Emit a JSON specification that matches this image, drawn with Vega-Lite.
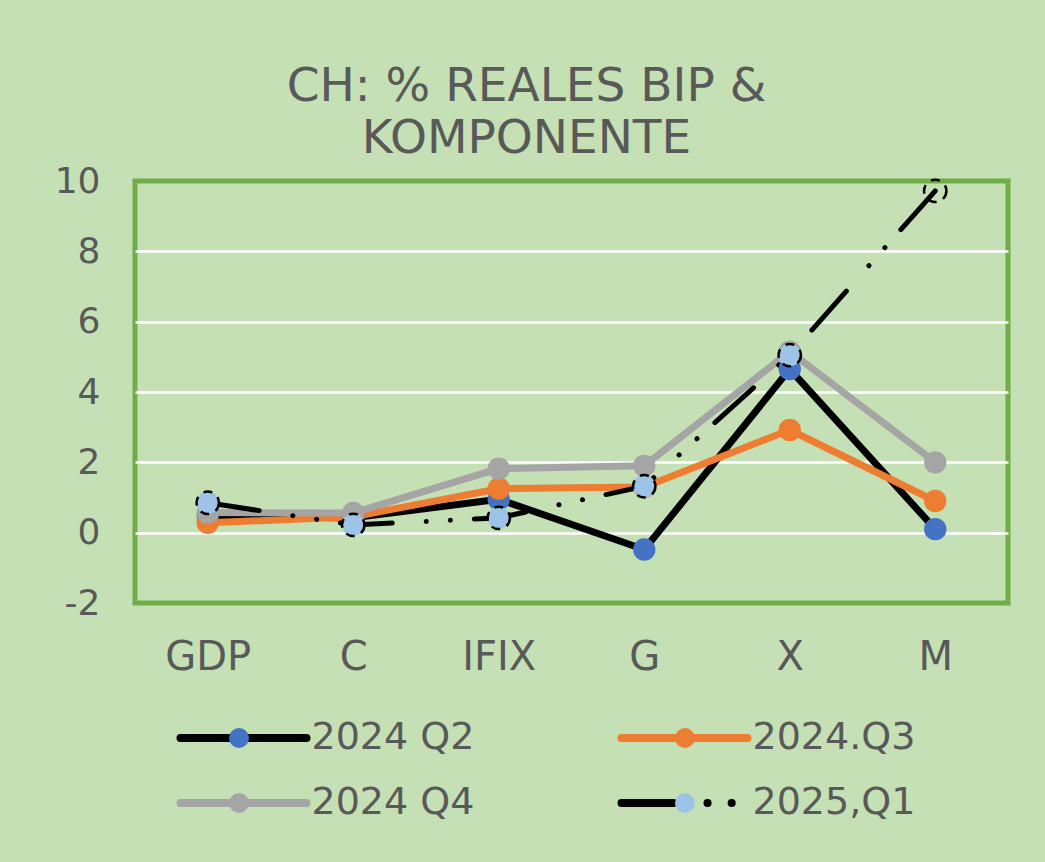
{
  "$schema": "https://vega.github.io/schema/vega-lite/v6.json",
  "width": 873,
  "height": 422,
  "autosize": "none",
  "padding": {"left": 135, "top": 181, "right": 37, "bottom": 259},
  "background": "#C5E0B4",
  "config": {
    "font": "DejaVu Sans",
    "view": {"stroke": "#70AD47", "strokeWidth": 5, "fill": "#C5E0B4"}
  },
  "title": {
    "text": ["CH: % REALES BIP &", "KOMPONENTE"],
    "fontSize": 47,
    "fontWeight": "normal",
    "color": "#595959",
    "font": "DejaVu Sans",
    "anchor": "middle",
    "dx": -45,
    "offset": 0,
    "lineHeight": 52
  },
  "data": {
    "values": [
      {"cat": "GDP", "series": "2024 Q2", "key": "a", "value": 0.48},
      {"cat": "C", "series": "2024 Q2", "key": "a", "value": 0.42},
      {"cat": "IFIX", "series": "2024 Q2", "key": "a", "value": 0.95},
      {"cat": "G", "series": "2024 Q2", "key": "a", "value": -0.48},
      {"cat": "X", "series": "2024 Q2", "key": "a", "value": 4.65},
      {"cat": "M", "series": "2024 Q2", "key": "a", "value": 0.1},
      {"cat": "GDP", "series": "2024.Q3", "key": "b", "value": 0.28},
      {"cat": "C", "series": "2024.Q3", "key": "b", "value": 0.45},
      {"cat": "IFIX", "series": "2024.Q3", "key": "b", "value": 1.25},
      {"cat": "G", "series": "2024.Q3", "key": "b", "value": 1.3},
      {"cat": "X", "series": "2024.Q3", "key": "b", "value": 2.92},
      {"cat": "M", "series": "2024.Q3", "key": "b", "value": 0.9},
      {"cat": "GDP", "series": "2024 Q4", "key": "c", "value": 0.57},
      {"cat": "C", "series": "2024 Q4", "key": "c", "value": 0.56},
      {"cat": "IFIX", "series": "2024 Q4", "key": "c", "value": 1.82},
      {"cat": "G", "series": "2024 Q4", "key": "c", "value": 1.9},
      {"cat": "X", "series": "2024 Q4", "key": "c", "value": 5.15},
      {"cat": "M", "series": "2024 Q4", "key": "c", "value": 2.0},
      {"cat": "GDP", "series": "2025,Q1", "key": "d", "value": 0.85},
      {"cat": "C", "series": "2025,Q1", "key": "d", "value": 0.22},
      {"cat": "IFIX", "series": "2025,Q1", "key": "d", "value": 0.42},
      {"cat": "G", "series": "2025,Q1", "key": "d", "value": 1.32},
      {"cat": "X", "series": "2025,Q1", "key": "d", "value": 5.05},
      {"cat": "M", "series": "2025,Q1", "key": "d", "value": 9.72}
    ]
  },
  "encoding": {
    "x": {
      "field": "cat",
      "type": "nominal",
      "sort": ["GDP", "C", "IFIX", "G", "X", "M"],
      "scale": {"type": "point", "padding": 0.5},
      "title": null,
      "axis": {
        "domain": false,
        "ticks": false,
        "labelAngle": 0,
        "labelFontSize": 40,
        "labelColor": "#595959",
        "labelPadding": 34
      }
    },
    "y": {
      "field": "value",
      "type": "quantitative",
      "scale": {"domain": [-2, 10], "nice": false, "zero": false},
      "title": null,
      "axis": {
        "values": [-2, 0, 2, 4, 6, 8, 10],
        "labelExpr": "'' + datum.value",
        "domain": false,
        "ticks": false,
        "grid": true,
        "gridColor": "white",
        "gridWidth": 2.5,
        "gridOpacity": {
          "condition": {"test": "datum.value === 10 || datum.value === -2", "value": 0},
          "value": 1
        },
        "labelFontSize": 36,
        "labelColor": "#595959",
        "labelPadding": 35
      }
    }
  },
  "layer": [
    {
      "transform": [{"filter": "datum.key !== 'd'"}],
      "mark": {"type": "line", "strokeWidth": 7, "strokeCap": "round", "strokeJoin": "round"},
      "encoding": {
        "stroke": {
          "field": "series",
          "type": "nominal",
          "scale": {
            "domain": ["2024 Q2", "2024.Q3", "2024 Q4", "2025,Q1"],
            "range": ["#000000", "#ED7D31", "#A5A5A5", "#000000"]
          },
          "legend": {
            "orient": "none",
            "legendX": 41,
            "legendY": 538,
            "direction": "horizontal",
            "columns": 2,
            "title": null,
            "symbolType": "M-6,0H6",
            "symbolSize": 441,
            "symbolStrokeWidth": 8,
            "symbolOffset": 48.5,
            "labelFontSize": 38,
            "labelColor": "#595959",
            "labelOffset": 49,
            "labelLimit": 400,
            "columnPadding": 130,
            "rowPadding": 27,
            "encode": {
              "symbols": {"update": {"strokeCap": {"value": "round"}}}
            }
          }
        }
      }
    },
    {
      "transform": [{"filter": "datum.key === 'd'"}],
      "mark": {"type": "line", "strokeWidth": 5, "strokeCap": "round", "strokeJoin": "round"},
      "encoding": {
        "stroke": {
          "field": "series",
          "type": "nominal",
          "scale": {
            "domain": ["2024 Q2", "2024.Q3", "2024 Q4", "2025,Q1"],
            "range": ["#000000", "#ED7D31", "#A5A5A5", "#000000"]
          }
        },
        "strokeDash": {
          "field": "series",
          "type": "nominal",
          "scale": {
            "domain": ["2024 Q2", "2024.Q3", "2024 Q4", "2025,Q1"],
            "range": [[1, 0], [1, 0], [1, 0], [52, 34, 0.1, 24, 0.1, 24]]
          },
          "legend": {
            "orient": "none",
            "legendX": 41,
            "legendY": 538,
            "direction": "horizontal",
            "columns": 2,
            "title": null
          }
        }
      }
    },
    {
      "mark": {"type": "point", "filled": true, "size": 500, "opacity": 1, "stroke": "black", "strokeWidth": 2.5, "strokeDash": [9, 7]},
      "encoding": {
        "fill": {
          "field": "key",
          "type": "nominal",
          "scale": {
            "domain": ["a", "b", "c", "d"],
            "range": ["#4472C4", "#ED7D31", "#A5A5A5", "#9DC3E6"]
          },
          "legend": {
            "orient": "none",
            "legendX": 41,
            "legendY": 538,
            "direction": "horizontal",
            "columns": 2,
            "title": null,
            "symbolType": "circle",
            "symbolSize": 400,
            "symbolOffset": 44,
            "symbolStrokeWidth": 0,
            "symbolOpacity": 1,
            "labelExpr": "''",
            "labelFontSize": 38,
            "labelOffset": 0,
            "columnPadding": 364,
            "rowPadding": 27
          }
        },
        "fillOpacity": {
          "condition": {"test": "datum.key === 'd' && datum.cat === 'M'", "value": 0},
          "value": 1
        },
        "strokeOpacity": {
          "condition": {"test": "datum.key === 'd'", "value": 1},
          "value": 0
        }
      }
    }
  ]
}
